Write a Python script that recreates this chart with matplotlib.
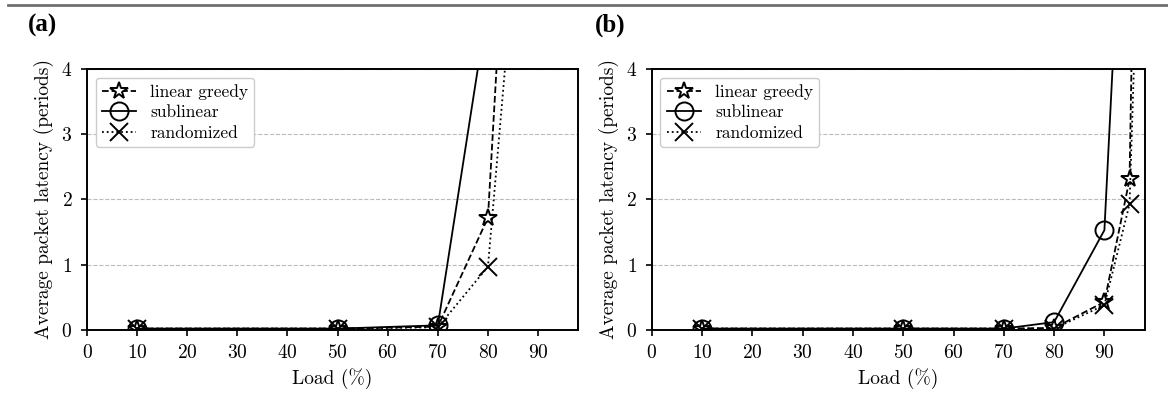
import matplotlib
matplotlib.use("Agg")
import matplotlib.pyplot as plt
from matplotlib.lines import Line2D
from matplotlib.font_manager import FontProperties

plt.rcParams['font.family'] = ['cmr10', 'DejaVu Serif']
plt.rcParams['mathtext.fontset'] = 'cm'
plt.rcParams['axes.formatter.use_mathtext'] = True

# panel (a)
load_a = [10, 50, 70, 80, 90]
greedy_a = [0.02, 0.02, 0.05, 1.72, 15.1]
sublin_a = [0.02, 0.02, 0.07, 5.0, 40.0]
random_a = [0.02, 0.02, 0.04, 0.97, 9.9]

# panel (b)
load_b = [10, 50, 70, 80, 90, 95, 100]
greedy_b = [0.02, 0.02, 0.02, 0.03, 0.43, 2.31, 25.0]
sublin_b = [0.02, 0.02, 0.02, 0.12, 1.53, 9.2, 60.0]
random_b = [0.02, 0.02, 0.02, 0.02, 0.38, 1.93, 14.0]

xticks = list(range(0, 100, 10))
yticks = [0, 1, 2, 3, 4]


def draw(ax, load, greedy, sublin, rand):
    ax.plot(load, greedy, color='black', ls='--', lw=1.3, marker='*', ms=13,
            mfc='white', mec='black', mew=1.4, label='linear greedy')
    ax.plot(load, sublin, color='black', ls='-', lw=1.3, marker='o', ms=13,
            mfc='none', mec='black', mew=1.4, label='sublinear')
    ax.plot(load, rand, color='black', ls=':', lw=1.3, marker='x', ms=13,
            mec='black', mew=1.4, label='randomized')
    ax.set_xlim(0, 98)
    ax.set_ylim(0, 4)
    ax.set_xticks(xticks)
    ax.set_yticks(yticks)
    ax.grid(axis='y', ls='--', color='#bbbbbb', lw=0.8)
    ax.set_axisbelow(True)
    ax.tick_params(labelsize=14, width=1.2, length=4.5, pad=6)
    for s in ax.spines.values():
        s.set_linewidth(1.4)
    ax.set_xlabel('Load (%)', fontsize=14, labelpad=4)
    ax.set_ylabel('Average packet latency (periods)', fontsize=14, labelpad=5)
    leg = ax.legend(loc='upper left', fontsize=12.5, handlelength=2.0,
                    borderpad=0.35, labelspacing=0.3, handletextpad=0.8,
                    fancybox=True, framealpha=1.0)
    leg.get_frame().set_edgecolor('#cccccc')


fig = plt.figure(figsize=(11.68, 3.97), dpi=100)
ax1 = fig.add_axes([0.0745, 0.169, 0.4205, 0.657])
ax2 = fig.add_axes([0.558, 0.169, 0.422, 0.657])
draw(ax1, load_a, greedy_a, sublin_a, random_a)
draw(ax2, load_b, greedy_b, sublin_b, random_b)

# panel tags in a bold Times-like face
tag_font = FontProperties(family='Liberation Serif', weight='bold', size=18)
fig.text(0.024, 0.92, '(a)', fontproperties=tag_font, ha='left', va='baseline')
fig.text(0.509, 0.92, '(b)', fontproperties=tag_font, ha='left', va='baseline')
fig.add_artist(Line2D([0.007, 1.0], [0.987, 0.987], color='#707070', lw=2.0,
                      transform=fig.transFigure))

fig.savefig('out.png', dpi=100)
